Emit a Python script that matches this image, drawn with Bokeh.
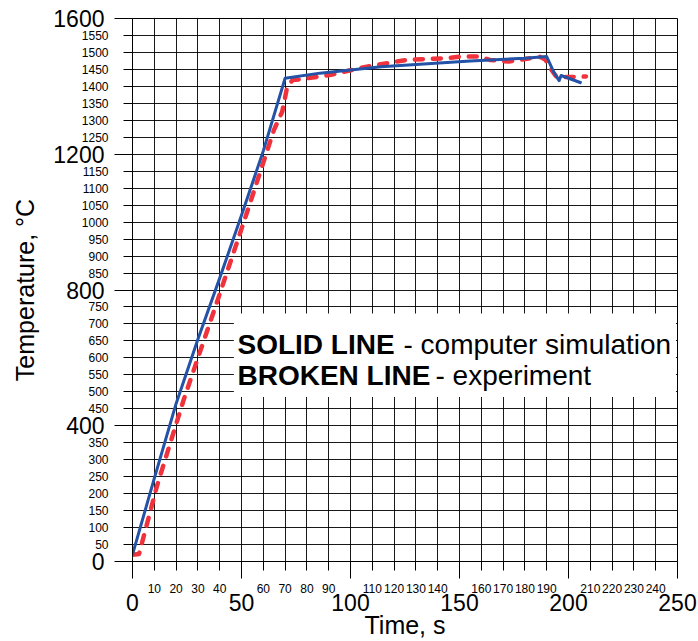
from bokeh.plotting import figure
from bokeh.models import FixedTicker, Range1d, Label, LinearAxis, BoxAnnotation
from bokeh.embed import file_html
from bokeh.resources import INLINE

# ---- data ----
sim_time = [0, 10, 20, 30, 40, 50, 60, 70, 86, 114, 155, 180, 190, 193.4, 195.7, 196.6, 206]
sim_temp = [20, 245, 465, 655, 835, 1020, 1210, 1424, 1439, 1458, 1475, 1483, 1488, 1440, 1417, 1432, 1410]

exp_time = [0, 3, 11.3, 23.6, 39.2, 52.7, 64.9, 68.7, 71, 73.5, 77, 91, 105, 112, 120, 126,
            137, 144, 151, 159, 164, 172.6, 179.5, 187, 189.5, 192, 194.5, 197, 208]
exp_temp = [20, 22, 224, 479, 773, 1032, 1272, 1326, 1400, 1419, 1421, 1434, 1455, 1463, 1472, 1478,
            1481, 1483, 1488, 1488, 1478, 1473, 1480, 1487, 1478, 1450, 1428, 1427, 1429]

x_major = [0, 50, 100, 150, 200, 250]
x_minor = [10, 20, 30, 40, 60, 70, 80, 90, 110, 120, 130, 140, 160, 170, 180, 190,
           210, 220, 230, 240]
y_major = [0, 400, 800, 1200, 1600]
y_minor = [50, 100, 150, 200, 250, 300, 350, 450, 500, 550, 600, 650, 700, 750,
           850, 900, 950, 1000, 1050, 1100, 1150, 1250, 1300, 1350, 1400, 1450, 1500, 1550]

x_title = "Time, s"
y_title = "Temperature, \u00b0C"
legend_bold = ["SOLID LINE", "BROKEN LINE"]
legend_rest = ["- computer simulation", "- experiment"]

FONT = "Liberation Sans"
BLUE = "#2352a6"
RED = "#f0323c"

p = figure(width=698, height=641, output_backend="svg", toolbar_location=None,
           x_range=Range1d(0, 250), y_range=Range1d(0, 1600),
           min_border_left=132, min_border_right=21, min_border_top=18, min_border_bottom=78)
p.outline_line_color = "black"
p.background_fill_color = "white"
p.border_fill_color = "white"

# grids
for g, ticks in ((p.xgrid[0], sorted(x_major + x_minor)), (p.ygrid[0], sorted(y_major + y_minor))):
    g.ticker = FixedTicker(ticks=ticks)
    g.grid_line_color = "black"
    g.grid_line_width = 1
    g.grid_line_alpha = 0.9

# inner axes: small labels (short ticks) + long unlabeled ticks at the big values
for ax, small, big, long_out in ((p.xaxis[0], x_minor, x_major, 17), (p.yaxis[0], y_minor, y_major, 18)):
    ax.ticker = FixedTicker(ticks=small, minor_ticks=big)
    ax.major_tick_in = 0
    ax.minor_tick_in = 0
    ax.major_tick_out = 9
    ax.minor_tick_out = long_out
    ax.axis_line_color = "black"
    ax.major_tick_line_color = "black"
    ax.minor_tick_line_color = "black"
    ax.major_label_text_font = FONT
    ax.major_label_text_font_size = "12px"
    ax.major_label_text_color = "black"
p.xaxis[0].major_label_standoff = 5
p.yaxis[0].major_label_standoff = 6

# outer axes: big labels and titles
def big_axis(ticks, title):
    a = LinearAxis(ticker=FixedTicker(ticks=ticks, minor_ticks=[]), axis_label=title)
    a.axis_line_color = None
    a.major_tick_line_color = None
    a.minor_tick_line_color = None
    a.major_tick_out = 0
    a.major_tick_in = 0
    a.major_label_text_font = FONT
    a.major_label_text_font_size = "23px"
    a.major_label_text_color = "black"
    a.axis_label_text_font = FONT
    a.axis_label_text_font_size = "25px"
    a.axis_label_text_font_style = "normal"
    a.axis_label_text_color = "black"
    return a

bx = big_axis(x_major, x_title)
bx.major_label_standoff = -2
bx.axis_label_standoff = -3
p.add_layout(bx, "below")

by = big_axis(y_major, y_title)
by.major_label_standoff = -26
by.axis_label_standoff = 11
p.add_layout(by, "left")

# lines
p.line(exp_time, exp_temp, line_color=RED, line_width=4.5, line_dash="8 10",
       line_cap="round", line_join="round")
p.line(sim_time, sim_temp, line_color=BLUE, line_width=3, line_join="round")

# legend box
p.add_layout(BoxAnnotation(left=46.5, right=249.3, bottom=485, top=731,
                           fill_color="white", fill_alpha=1.0, line_alpha=0))
bold_offsets = [(105, 217), (105, 186)]
rest_offsets = [(271, 217), (303, 186)]
for t, (dx, dy) in zip(legend_bold, bold_offsets):
    p.add_layout(Label(x=0, y=0, x_offset=dx, y_offset=dy, text=t, text_font=FONT,
                       text_font_size="28px", text_font_style="bold", text_color="black",
                       text_align="left", text_baseline="alphabetic"))
for t, (dx, dy) in zip(legend_rest, rest_offsets):
    p.add_layout(Label(x=0, y=0, x_offset=dx, y_offset=dy, text=t, text_font=FONT,
                       text_font_size="28px", text_font_style="normal", text_color="black",
                       text_align="left", text_baseline="alphabetic"))

open("out.html", "w").write(file_html(p, INLINE))
